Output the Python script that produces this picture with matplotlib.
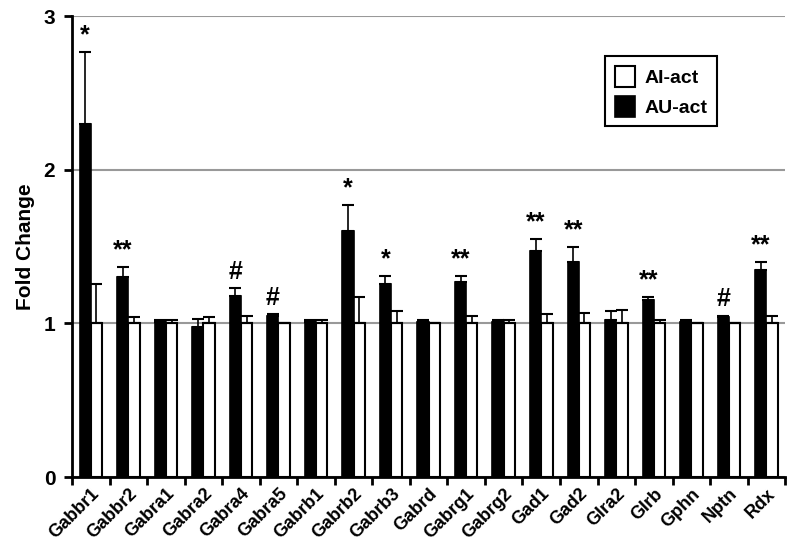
import numpy as np
import matplotlib.pyplot as plt

plt.rcParams['font.family'] = ['Liberation Sans', 'DejaVu Sans']
plt.rcParams['font.weight'] = 'bold'

genes = ['Gabbr1', 'Gabbr2', 'Gabra1', 'Gabra2', 'Gabra4', 'Gabra5', 'Gabrb1',
         'Gabrb2', 'Gabrb3', 'Gabrd', 'Gabrg1', 'Gabrg2', 'Gad1', 'Gad2',
         'Glra2', 'Glrb', 'Gphn', 'Nptn', 'Rdx']
au_act = [2.30, 1.30, 1.01, 0.98, 1.18, 1.05, 1.01, 1.60, 1.26, 1.01, 1.27,
          1.01, 1.47, 1.40, 1.02, 1.15, 1.01, 1.04, 1.35]
au_err = [0.47, 0.07, 0.01, 0.05, 0.05, 0.01, 0.01, 0.17, 0.05, 0.01, 0.04,
          0.01, 0.08, 0.10, 0.06, 0.02, 0.01, 0.01, 0.05]
ai_act = [1.0] * 19
ai_err = [0.26, 0.04, 0.02, 0.04, 0.05, 0.0, 0.02, 0.17, 0.08, 0.0, 0.05,
          0.02, 0.06, 0.07, 0.09, 0.02, 0.0, 0.0, 0.05]
signif = ['*', '**', '', '', '#', '#', '', '*', '*', '', '**', '', '**', '**',
          '', '**', '', '#', '**']

x = np.arange(len(genes))
w = 0.3

fig = plt.figure(figsize=(7.96, 5.58), dpi=100)
ax = fig.add_axes([0.0905, 0.145, 0.896, 0.826])

ax.yaxis.grid(True, color='#999999', linewidth=1.5, zorder=0)
ax.set_axisbelow(True)

zeros = np.zeros(len(genes))
ax.bar(x - w / 2, au_act, w, color='black', edgecolor='black', linewidth=1.2,
       yerr=[zeros, au_err], capsize=4,
       error_kw=dict(elinewidth=1.2, capthick=1.5, ecolor='black'),
       label='AU-act', zorder=3)
ax.bar(x + w / 2, ai_act, w, color='white', edgecolor='black', linewidth=1.5,
       yerr=[zeros, ai_err], capsize=4,
       error_kw=dict(elinewidth=1.2, capthick=1.5, ecolor='black'),
       label='AI-act', zorder=3)

for i, s in enumerate(signif):
    if s:
        ax.text(x[i] - w / 2, au_act[i] + au_err[i] + 0.03, s, ha='center',
                va='bottom', fontsize=18, fontweight='bold')

ax.set_xlim(-0.5, len(genes) - 0.5)
ax.set_ylim(0, 3)
ax.set_yticks([0, 1, 2, 3])
ax.set_yticklabels(['0', '1', '2', '3'], fontsize=15, fontweight='bold')
ax.set_xticks(x)
ax.set_xticklabels(genes, rotation=45, ha='right', rotation_mode='anchor',
                   fontsize=13, fontweight='bold')
ax.tick_params(axis='x', length=0, pad=6)
ax.set_xticks(np.arange(len(genes) + 1) - 0.5, minor=True)
ax.tick_params(axis='x', which='minor', length=6, width=2, direction='out')
ax.tick_params(axis='y', length=6, width=2, direction='out', pad=6)

for side in ['top', 'right']:
    ax.spines[side].set_visible(False)
for side in ['left', 'bottom']:
    ax.spines[side].set_linewidth(2)

ax.set_ylabel('Fold Change', fontsize=15, fontweight='bold', labelpad=6)

handles, labels = ax.get_legend_handles_labels()
leg = ax.legend(handles[::-1], labels[::-1], loc='upper right',
                bbox_to_anchor=(0.918, 0.935), fancybox=False, framealpha=1,
                edgecolor='black', prop=dict(size=14, weight='bold'),
                handlelength=1.0, handleheight=1.3, borderpad=0.5,
                labelspacing=0.45, handletextpad=0.5)
leg.get_frame().set_linewidth(1.5)

fig.savefig('out.png', dpi=100)
